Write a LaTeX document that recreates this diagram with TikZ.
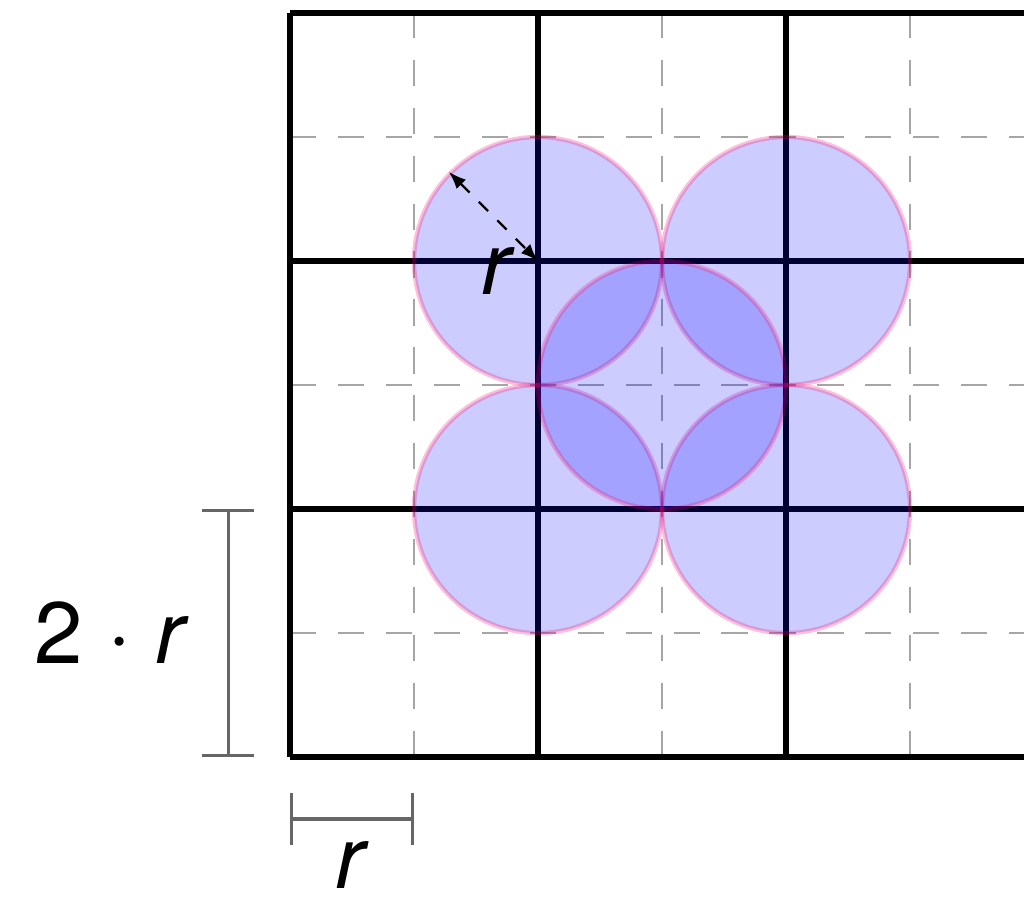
\documentclass[tikz,border=0pt]{standalone}
\usepackage{fontspec}
\setmainfont{TeX Gyre Heros}
\usetikzlibrary{arrows.meta}

\begin{document}
\begin{tikzpicture}[
  major/.style={line width=1.4pt, black},
  minor/.style={gray!70, line width=0.5pt, dash pattern=on 6pt off 5pt},
  disc/.style={circle, minimum size=2cm, inner sep=0pt,
               fill=blue, fill opacity=0.2,
               draw=red!60!magenta, draw opacity=0.25, line width=1pt},
  dimline/.style={gray!80!black, line width=0.7pt},
  lbl/.style={font=\fontsize{20}{24}\selectfont, inner sep=0pt}
]
  \useasboundingbox (-2.339,-1.202) rectangle (5.919,6.105);
  \clip (-2.339,-1.202) rectangle (5.919,6.105);

  %% Grid
  \foreach \p in {1,3,5} {
    \draw[minor] (\p,0) -- (\p,6);
    \draw[minor] (0,\p) -- (6,\p);
  }
  \foreach \p in {0,2,4,6} {
    \draw[major] (\p,0) -- (\p,6);
    \draw[major] (0,\p) -- (6,\p);
  }

  %% Discs
  \node[disc] (tl) at (2,4) {};
  \node[disc] (tr) at (4,4) {};
  \node[disc] (bl) at (2,2) {};
  \node[disc] (br) at (4,2) {};
  \node[disc] (mid) at (3,3) {};

  %% Radius
  \draw[dashed, line width=0.5pt, {Latex[length=4pt]}-{Latex[length=4pt]}]
    (tl.135) -- (tl.center);
  \node[lbl] (rlab) at (1.68,3.92) {\textit{r}};

  %% Dimensions
  \coordinate (h0) at (-0.5,0);
  \coordinate (h1) at (-0.5,2);
  \coordinate (w0) at (0,-0.5);
  \coordinate (w1) at (1,-0.5);
  \draw[dimline, {Bar[width=12pt]}-{Bar[width=12pt]}] (h0) -- (h1);
  \draw[dimline, {Bar[width=12pt]}-{Bar[width=12pt]}] (w0) -- (w1);
  \node[lbl] (hlab) at (-1.435,1) {2 · \textit{r}};
  \node[lbl] (wlab) at (0.5,-0.87) {\textit{r}};
\end{tikzpicture}
\end{document}
